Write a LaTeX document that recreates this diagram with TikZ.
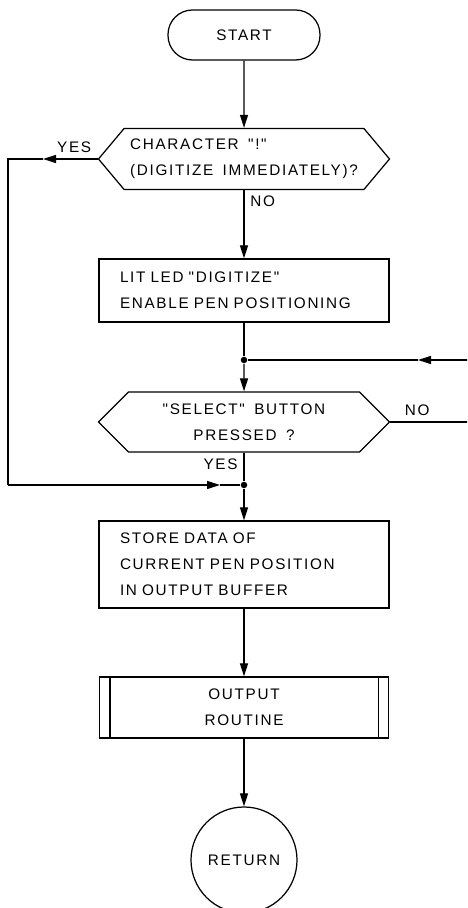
\documentclass[tikz,border=0pt]{standalone}
\usepackage{fontspec}
\usepackage{tikz}
\usetikzlibrary{positioning, arrows.meta, shapes.symbols, calc}
\newfontfamily\flowfont[LetterSpace=11, WordSpace=1.6]{Liberation Sans}
\newcommand{\flowtext}{\flowfont\fontsize{8.7}{14.8}\selectfont}

\begin{document}
\begin{tikzpicture}[
    line width=0.7pt,
    font=\flowtext,
    flow/.style={-{Triangle[length=2.6mm, width=1.6mm]}},
    terminal/.style={draw, rounded corners=0.49cm, minimum width=3.04cm, minimum height=1cm},
    decision/.style={draw, shape=signal, signal to=west and east, signal pointer angle=100,
                     minimum width=5.82cm, minimum height=1.22cm, align=left},
    process/.style={draw, text width=4.96cm, inner xsep=0.42cm, align=left},
    subroutine/.style={draw, minimum width=5.78cm, minimum height=1.22cm, align=center},
    joint/.style={circle, fill, inner sep=0pt, minimum size=1.3mm}]
    \useasboundingbox (0,0) rectangle (9.34,18.16);
    \clip (0,0) rectangle (9.34,18.16);

    % main column
    \node[terminal] (start) at (4.88,17.46) {START};
    \node[decision] (immed) at (4.88,14.98) {CHARACTER "!"\\(DIGITIZE IMMEDIATELY)?};
    \node[process, minimum height=1.26cm] (lit) at (4.88,12.35)
      {LIT LED "DIGITIZE"\\ENABLE PEN POSITIONING};
    \node[joint] (wait) at (4.88,10.96) {};
    \node[decision, signal pointer angle=90, minimum height=1.2cm, align=center] (select) at (4.88,9.72)
      {"SELECT" BUTTON\\PRESSED ?};
    \node[joint] (take) at (4.88,8.46) {};
    \node[process, minimum height=1.74cm] (store) at (4.88,6.87)
      {STORE DATA OF\\CURRENT PEN POSITION\\IN OUTPUT BUFFER};
    \node[subroutine] (output) at (4.88,4.01) {OUTPUT\\ROUTINE};
    \node[circle, draw, minimum size=2.12cm] (return) at (4.88,0.96) {RETURN};
    \draw ([xshift=0.22cm]output.north west) -- ([xshift=0.22cm]output.south west);
    \draw ([xshift=-0.22cm]output.north east) -- ([xshift=-0.22cm]output.south east);

    \draw[flow] (start) -- (immed);
    \draw[flow] (immed.south) -- node[right, pos=0.17] {NO} (lit.north);
    \draw (lit) -- (wait);
    \draw[flow] (wait) -- (select);
    \draw (select.south) -- node[left, pos=0.42] {YES} (take);
    \draw[flow] (take) -- (store);
    \draw[flow] (store) -- (output);
    \draw[flow] (output) -- (return);

    % side loops
    \coordinate (leftrail) at (0.16,0);
    \coordinate (rightrail) at (9.6,0);
    \coordinate (yestip) at (0.86,0);
    \coordinate (jointip) at (4.40,0);
    \coordinate (notip) at (8.36,0);
    \draw[flow] (immed.west) -- node[above, pos=0.43] {YES} (immed.west -| yestip);
    \draw (immed.west -| yestip) -- (immed.west -| leftrail) -- (take -| leftrail);
    \draw[flow] (take -| leftrail) -- (take -| jointip);
    \draw (take -| jointip) -- (take);
    \draw (select.east) -- node[above, pos=0.3] {NO} (select.east -| rightrail) -- (wait -| rightrail);
    \draw[flow] (wait -| rightrail) -- (wait -| notip);
    \draw (wait -| notip) -- (wait);
\end{tikzpicture}
\end{document}
